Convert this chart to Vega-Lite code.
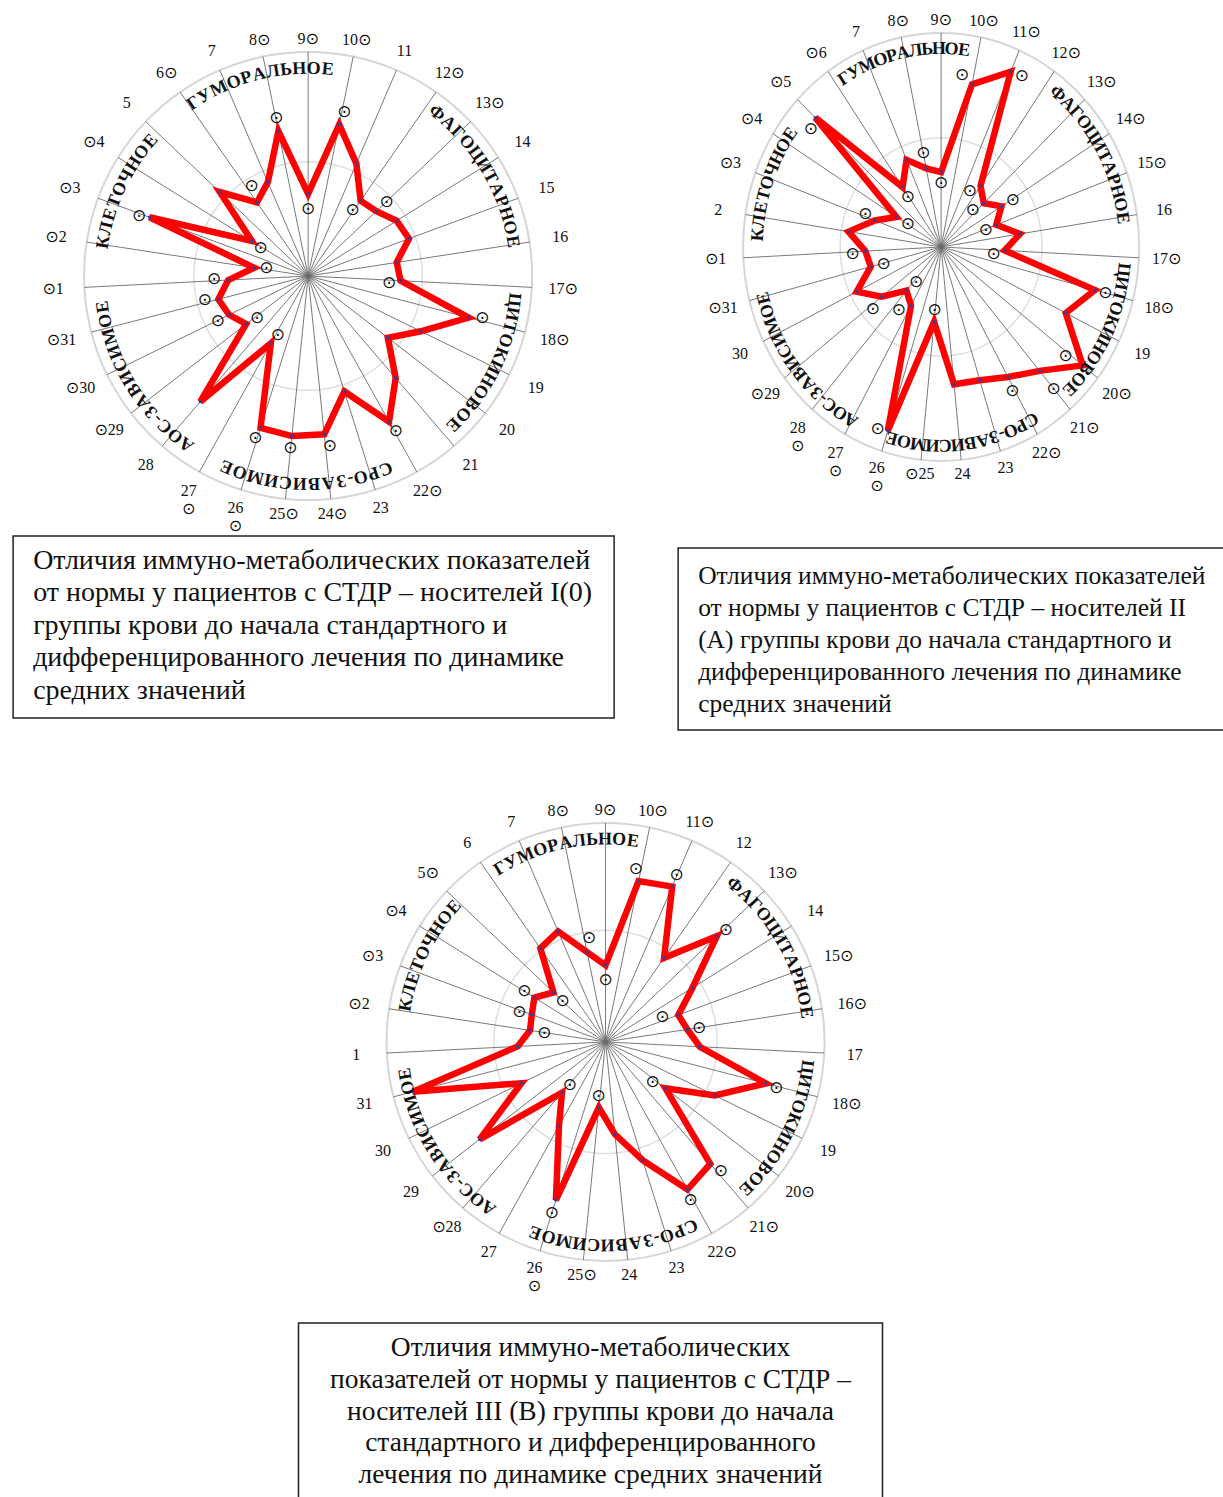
{
  "$schema": "https://vega.github.io/schema/vega-lite/v6.json",
  "background": "white",
  "padding": {"left": 12, "top": 0, "right": 0, "bottom": 0},
  "config": {"view": {"stroke": null}},
  "center": true,
  "spacing": 0,
  "datasets": {
    "vals": [
      {"chart":1,"spoke":1,"v":0.357},{"chart":1,"spoke":2,"v":0.244},{"chart":1,"spoke":3,"v":0.755},{"chart":1,"spoke":4,"v":0.296},{"chart":1,"spoke":5,"v":0.544},{"chart":1,"spoke":6,"v":0.40},{"chart":1,"spoke":7,"v":0.456},{"chart":1,"spoke":8,"v":0.66},{"chart":1,"spoke":9,"v":0.367},{"chart":1,"spoke":10,"v":0.69},{"chart":1,"spoke":11,"v":0.546},{"chart":1,"spoke":12,"v":0.41},{"chart":1,"spoke":13,"v":0.42},{"chart":1,"spoke":14,"v":0.466},{"chart":1,"spoke":15,"v":0.48},{"chart":1,"spoke":16,"v":0.40},{"chart":1,"spoke":17,"v":0.413},{"chart":1,"spoke":18,"v":0.74},{"chart":1,"spoke":19,"v":0.56},{"chart":1,"spoke":20,"v":0.45},{"chart":1,"spoke":21,"v":0.60},{"chart":1,"spoke":22,"v":0.744},{"chart":1,"spoke":23,"v":0.54},{"chart":1,"spoke":24,"v":0.71},{"chart":1,"spoke":25,"v":0.718},{"chart":1,"spoke":26,"v":0.71},{"chart":1,"spoke":27,"v":0.343},{"chart":1,"spoke":28,"v":0.739},{"chart":1,"spoke":29,"v":0.35},{"chart":1,"spoke":30,"v":0.393},{"chart":1,"spoke":31,"v":0.414},
      {"chart":2,"spoke":1,"v":0.383},{"chart":2,"spoke":2,"v":0.473},{"chart":2,"spoke":3,"v":0.357},{"chart":2,"spoke":4,"v":0.266},{"chart":2,"spoke":5,"v":0.877},{"chart":2,"spoke":6,"v":0.341},{"chart":2,"spoke":7,"v":0.443},{"chart":2,"spoke":8,"v":0.375},{"chart":2,"spoke":9,"v":0.35},{"chart":2,"spoke":10,"v":0.776},{"chart":2,"spoke":11,"v":0.891},{"chart":2,"spoke":12,"v":0.348},{"chart":2,"spoke":13,"v":0.297},{"chart":2,"spoke":14,"v":0.359},{"chart":2,"spoke":15,"v":0.297},{"chart":2,"spoke":16,"v":0.403},{"chart":2,"spoke":17,"v":0.321},{"chart":2,"spoke":18,"v":0.802},{"chart":2,"spoke":19,"v":0.701},{"chart":2,"spoke":20,"v":0.904},{"chart":2,"spoke":21,"v":0.763},{"chart":2,"spoke":22,"v":0.695},{"chart":2,"spoke":23,"v":0.653},{"chart":2,"spoke":24,"v":0.645},{"chart":2,"spoke":25,"v":0.352},{"chart":2,"spoke":26,"v":0.90},{"chart":2,"spoke":27,"v":0.313},{"chart":2,"spoke":28,"v":0.269},{"chart":2,"spoke":29,"v":0.38},{"chart":2,"spoke":30,"v":0.475},{"chart":2,"spoke":31,"v":0.367},
      {"chart":3,"spoke":1,"v":0.402},{"chart":3,"spoke":2,"v":0.349},{"chart":3,"spoke":3,"v":0.359},{"chart":3,"spoke":4,"v":0.383},{"chart":3,"spoke":5,"v":0.328},{"chart":3,"spoke":6,"v":0.521},{"chart":3,"spoke":7,"v":0.549},{"chart":3,"spoke":8,"v":0.419},{"chart":3,"spoke":9,"v":0.35},{"chart":3,"spoke":10,"v":0.75},{"chart":3,"spoke":11,"v":0.772},{"chart":3,"spoke":12,"v":0.468},{"chart":3,"spoke":13,"v":0.701},{"chart":3,"spoke":14,"v":0.468},{"chart":3,"spoke":15,"v":0.354},{"chart":3,"spoke":16,"v":0.378},{"chart":3,"spoke":17,"v":0.431},{"chart":3,"spoke":18,"v":0.757},{"chart":3,"spoke":19,"v":0.555},{"chart":3,"spoke":20,"v":0.346},{"chart":3,"spoke":21,"v":0.734},{"chart":3,"spoke":22,"v":0.771},{"chart":3,"spoke":23,"v":0.566},{"chart":3,"spoke":24,"v":0.424},{"chart":3,"spoke":25,"v":0.301},{"chart":3,"spoke":26,"v":0.757},{"chart":3,"spoke":27,"v":0.438},{"chart":3,"spoke":28,"v":0.305},{"chart":3,"spoke":29,"v":0.727},{"chart":3,"spoke":30,"v":0.428},{"chart":3,"spoke":31,"v":0.909}
    ],
    "marks": [
      {"chart":1,"pos":1.1,"r":0.42},{"chart":1,"pos":2.2,"r":0.19},{"chart":1,"pos":2.93,"r":0.80},{"chart":1,"pos":3.85,"r":0.245},{"chart":1,"pos":6.24,"r":0.476},{"chart":1,"pos":8.02,"r":0.72},{"chart":1,"pos":9.0,"r":0.30},{"chart":1,"pos":10.07,"r":0.75},{"chart":1,"pos":11.93,"r":0.354},{"chart":1,"pos":13.03,"r":0.48},{"chart":1,"pos":17.19,"r":0.363},{"chart":1,"pos":17.91,"r":0.80},{"chart":1,"pos":21.96,"r":0.795},{"chart":1,"pos":23.87,"r":0.765},{"chart":1,"pos":25.01,"r":0.77},{"chart":1,"pos":26.05,"r":0.762},{"chart":1,"pos":26.85,"r":0.295},{"chart":1,"pos":28.84,"r":0.295},{"chart":1,"pos":29.96,"r":0.45},{"chart":1,"pos":31.13,"r":0.473},
      {"chart":2,"pos":4.70,"r":0.86},{"chart":2,"pos":8.01,"r":0.448},{"chart":2,"pos":9.0,"r":0.299},{"chart":2,"pos":5.9,"r":0.286},{"chart":2,"pos":4.03,"r":0.199},{"chart":2,"pos":3.16,"r":0.413},{"chart":2,"pos":0.87,"r":0.448},{"chart":2,"pos":30.91,"r":0.302},{"chart":2,"pos":27.73,"r":0.207},{"chart":2,"pos":28.81,"r":0.449},{"chart":2,"pos":27.61,"r":0.362},{"chart":2,"pos":26.28,"r":0.907},{"chart":2,"pos":25.05,"r":0.295},{"chart":2,"pos":17.38,"r":0.267},{"chart":2,"pos":18.0,"r":0.857},{"chart":2,"pos":20.12,"r":0.81},{"chart":2,"pos":22.08,"r":0.763},{"chart":2,"pos":21.0,"r":0.872},{"chart":2,"pos":9.65,"r":0.81},{"chart":2,"pos":11.33,"r":0.897},{"chart":2,"pos":11.5,"r":0.3},{"chart":2,"pos":12.71,"r":0.234},{"chart":2,"pos":14.07,"r":0.423},{"chart":2,"pos":15.12,"r":0.239},
      {"chart":3,"pos":8.23,"r":0.48},{"chart":3,"pos":9.0,"r":0.282},{"chart":3,"pos":4.0,"r":0.437},{"chart":3,"pos":4.99,"r":0.27},{"chart":3,"pos":2.9,"r":0.417},{"chart":3,"pos":1.99,"r":0.283},{"chart":3,"pos":27.9,"r":0.256},{"chart":3,"pos":25.13,"r":0.25},{"chart":3,"pos":26.0,"r":0.818},{"chart":3,"pos":20.23,"r":0.282},{"chart":3,"pos":18.04,"r":0.808},{"chart":3,"pos":20.9,"r":0.79},{"chart":3,"pos":22.07,"r":0.821},{"chart":3,"pos":9.86,"r":0.80},{"chart":3,"pos":10.99,"r":0.827},{"chart":3,"pos":13.06,"r":0.75},{"chart":3,"pos":14.71,"r":0.284},{"chart":3,"pos":16.02,"r":0.432}
    ],
    "labels": [
      {"chart":1,"spoke":1,"lab":"⊙1"},{"chart":1,"spoke":2,"lab":"⊙2"},{"chart":1,"spoke":3,"lab":"⊙3"},{"chart":1,"spoke":4,"lab":"⊙4"},{"chart":1,"spoke":5,"lab":"5"},{"chart":1,"spoke":6,"lab":"6⊙"},{"chart":1,"spoke":7,"lab":"7"},{"chart":1,"spoke":8,"lab":"8⊙"},{"chart":1,"spoke":9,"lab":"9⊙"},{"chart":1,"spoke":10,"lab":"10⊙"},{"chart":1,"spoke":11,"lab":"11"},{"chart":1,"spoke":12,"lab":"12⊙"},{"chart":1,"spoke":13,"lab":"13⊙"},{"chart":1,"spoke":14,"lab":"14"},{"chart":1,"spoke":15,"lab":"15"},{"chart":1,"spoke":16,"lab":"16"},{"chart":1,"spoke":17,"lab":"17⊙"},{"chart":1,"spoke":18,"lab":"18⊙"},{"chart":1,"spoke":19,"lab":"19"},{"chart":1,"spoke":20,"lab":"20"},{"chart":1,"spoke":21,"lab":"21"},{"chart":1,"spoke":22,"lab":"22⊙"},{"chart":1,"spoke":23,"lab":"23"},{"chart":1,"spoke":24,"lab":"24⊙"},{"chart":1,"spoke":25,"lab":"25⊙"},{"chart":1,"spoke":26,"lab":"26\n⊙"},{"chart":1,"spoke":27,"lab":"27\n⊙"},{"chart":1,"spoke":28,"lab":"28"},{"chart":1,"spoke":29,"lab":"⊙29"},{"chart":1,"spoke":30,"lab":"⊙30"},{"chart":1,"spoke":31,"lab":"⊙31"},
      {"chart":2,"spoke":1,"lab":"⊙1"},{"chart":2,"spoke":2,"lab":"2"},{"chart":2,"spoke":3,"lab":"⊙3"},{"chart":2,"spoke":4,"lab":"⊙4"},{"chart":2,"spoke":5,"lab":"⊙5"},{"chart":2,"spoke":6,"lab":"⊙6"},{"chart":2,"spoke":7,"lab":"7"},{"chart":2,"spoke":8,"lab":"8⊙"},{"chart":2,"spoke":9,"lab":"9⊙"},{"chart":2,"spoke":10,"lab":"10⊙"},{"chart":2,"spoke":11,"lab":"11⊙"},{"chart":2,"spoke":12,"lab":"12⊙"},{"chart":2,"spoke":13,"lab":"13⊙"},{"chart":2,"spoke":14,"lab":"14⊙"},{"chart":2,"spoke":15,"lab":"15⊙"},{"chart":2,"spoke":16,"lab":"16"},{"chart":2,"spoke":17,"lab":"17⊙"},{"chart":2,"spoke":18,"lab":"18⊙"},{"chart":2,"spoke":19,"lab":"19"},{"chart":2,"spoke":20,"lab":"20⊙"},{"chart":2,"spoke":21,"lab":"21⊙"},{"chart":2,"spoke":22,"lab":"22⊙"},{"chart":2,"spoke":23,"lab":"23"},{"chart":2,"spoke":24,"lab":"24"},{"chart":2,"spoke":25,"lab":"⊙25"},{"chart":2,"spoke":26,"lab":"26\n⊙"},{"chart":2,"spoke":27,"lab":"27\n⊙"},{"chart":2,"spoke":28,"lab":"28\n⊙"},{"chart":2,"spoke":29,"lab":"⊙29"},{"chart":2,"spoke":30,"lab":"30"},{"chart":2,"spoke":31,"lab":"⊙31"},
      {"chart":3,"spoke":1,"lab":"1"},{"chart":3,"spoke":2,"lab":"⊙2"},{"chart":3,"spoke":3,"lab":"⊙3"},{"chart":3,"spoke":4,"lab":"⊙4"},{"chart":3,"spoke":5,"lab":"5⊙"},{"chart":3,"spoke":6,"lab":"6"},{"chart":3,"spoke":7,"lab":"7"},{"chart":3,"spoke":8,"lab":"8⊙"},{"chart":3,"spoke":9,"lab":"9⊙"},{"chart":3,"spoke":10,"lab":"10⊙"},{"chart":3,"spoke":11,"lab":"11⊙"},{"chart":3,"spoke":12,"lab":"12"},{"chart":3,"spoke":13,"lab":"13⊙"},{"chart":3,"spoke":14,"lab":"14"},{"chart":3,"spoke":15,"lab":"15⊙"},{"chart":3,"spoke":16,"lab":"16⊙"},{"chart":3,"spoke":17,"lab":"17"},{"chart":3,"spoke":18,"lab":"18⊙"},{"chart":3,"spoke":19,"lab":"19"},{"chart":3,"spoke":20,"lab":"20⊙"},{"chart":3,"spoke":21,"lab":"21⊙"},{"chart":3,"spoke":22,"lab":"22⊙"},{"chart":3,"spoke":23,"lab":"23"},{"chart":3,"spoke":24,"lab":"24"},{"chart":3,"spoke":25,"lab":"25⊙"},{"chart":3,"spoke":26,"lab":"26\n⊙"},{"chart":3,"spoke":27,"lab":"27"},{"chart":3,"spoke":28,"lab":"⊙28"},{"chart":3,"spoke":29,"lab":"29"},{"chart":3,"spoke":30,"lab":"30"},{"chart":3,"spoke":31,"lab":"31"}
    ],
    "groups": [
      {"chart":1,"name":"ГУМОРАЛЬНОЕ","at":7.8},{"chart":1,"name":"ФАГОЦИТАРНОЕ","at":14.1},{"chart":1,"name":"ЦИТОКИНОВОЕ","at":19.0},{"chart":1,"name":"СРО-ЗАВИСИМОЕ","at":24.55},{"chart":1,"name":"АОС-ЗАВИСИМОЕ","at":29.55},{"chart":1,"name":"КЛЕТОЧНОЕ","at":3.4},
      {"chart":2,"name":"ГУМОРАЛЬНОЕ","at":7.95},{"chart":2,"name":"ФАГОЦИТАРНОЕ","at":14.2},{"chart":2,"name":"ЦИТОКИНОВОЕ","at":19.0},{"chart":2,"name":"СРО-ЗАВИСИМОЕ","at":23.9},{"chart":2,"name":"АОС-ЗАВИСИМОЕ","at":29.0},{"chart":2,"name":"КЛЕТОЧНОЕ","at":2.9},
      {"chart":3,"name":"ГУМОРАЛЬНОЕ","at":8.0},{"chart":3,"name":"ФАГОЦИТАРНОЕ","at":14.2},{"chart":3,"name":"ЦИТОКИНОВОЕ","at":19.04},{"chart":3,"name":"СРО-ЗАВИСИМОЕ","at":24.3},{"chart":3,"name":"АОС-ЗАВИСИМОЕ","at":29.5},{"chart":3,"name":"КЛЕТОЧНОЕ","at":3.5}
    ],
    "cap": [
      {"box":1,"line":1,"t":"Отличия иммуно-метаболических показателей"},
      {"box":1,"line":2,"t":"от нормы у пациентов с СТДР – носителей I(0)"},
      {"box":1,"line":3,"t":"группы крови до начала стандартного и"},
      {"box":1,"line":4,"t":"дифференцированного лечения по динамике"},
      {"box":1,"line":5,"t":"средних значений"},
      {"box":2,"line":1,"t":"Отличия иммуно-метаболических показателей"},
      {"box":2,"line":2,"t":"от нормы у пациентов с СТДР – носителей II"},
      {"box":2,"line":3,"t":"(А) группы крови до начала стандартного и"},
      {"box":2,"line":4,"t":"дифференцированного лечения по динамике"},
      {"box":2,"line":5,"t":"средних значений"},
      {"box":3,"line":1,"t":"Отличия иммуно-метаболических"},
      {"box":3,"line":2,"t":"показателей от нормы у пациентов с СТДР –"},
      {"box":3,"line":3,"t":"носителей III (В) группы крови до начала"},
      {"box":3,"line":4,"t":"стандартного и дифференцированного"},
      {"box":3,"line":5,"t":"лечения по динамике средних значений"}
    ]
  },
  "vconcat": [
    {
      "spacing": 62,
      "hconcat": [
        {
          "spacing": 0,
          "vconcat": [
            {
              "width": 601, "height": 535,
              "encoding": {
                "x": {"field": "gx", "type": "quantitative", "scale": {"domain": [-1.317, 1.366], "nice": false, "zero": false}, "axis": null},
                "y": {"field": "gy", "type": "quantitative", "scale": {"domain": [-1.156, 1.232], "nice": false, "zero": false}, "axis": null}
              },
              "layer": [
                {"data": {"name": "vals"}, "transform": [{"filter": "datum.chart==1"}, {"calculate": "(datum.spoke-9)*2*PI/31", "as": "t"}, {"calculate": "0.51*sin(datum.t)", "as": "gx"}, {"calculate": "0.51*cos(datum.t)", "as": "gy"}],
                 "mark": {"type": "line", "interpolate": "cardinal-closed", "color": "#dedede", "strokeWidth": 1.5}, "encoding": {"order": {"field": "spoke", "type": "quantitative"}}},
                {"data": {"name": "vals"}, "transform": [{"filter": "datum.chart==1"}, {"calculate": "(datum.spoke-9)*2*PI/31", "as": "t"}, {"calculate": "sin(datum.t)", "as": "gx"}, {"calculate": "cos(datum.t)", "as": "gy"}],
                 "mark": {"type": "line", "interpolate": "cardinal-closed", "color": "#d6d6d6", "strokeWidth": 2}, "encoding": {"order": {"field": "spoke", "type": "quantitative"}}},
                {"data": {"name": "vals"}, "transform": [{"filter": "datum.chart==1"}, {"calculate": "(datum.spoke-9)*2*PI/31", "as": "t"}, {"calculate": "0", "as": "gx"}, {"calculate": "0", "as": "gy"}, {"calculate": "sin(datum.t)", "as": "ex"}, {"calculate": "cos(datum.t)", "as": "ey"}],
                 "mark": {"type": "rule", "color": "#6a6a6a", "strokeWidth": 0.9}, "encoding": {"x2": {"field": "ex"}, "y2": {"field": "ey"}}},
                {"data": {"name": "vals"}, "transform": [{"filter": "datum.chart==1"}, {"calculate": "(datum.spoke-9)*2*PI/31", "as": "t"}, {"calculate": "datum.v*sin(datum.t)", "as": "gx"}, {"calculate": "datum.v*cos(datum.t)", "as": "gy"}],
                 "mark": {"type": "line", "interpolate": "linear-closed", "color": "#ff0000", "strokeWidth": 6.5, "strokeJoin": "miter"}, "encoding": {"order": {"field": "spoke", "type": "quantitative"}}},
                {"data": {"name": "vals"}, "transform": [{"filter": "datum.chart==1"}, {"calculate": "(datum.spoke-9)*2*PI/31", "as": "t"}, {"calculate": "datum.v*sin(datum.t)", "as": "gx"}, {"calculate": "datum.v*cos(datum.t)", "as": "gy"}],
                 "mark": {"type": "point", "filled": true, "color": "#2f3fa8", "size": 12, "opacity": 1}},
                {"data": {"name": "marks"}, "transform": [{"filter": "datum.chart==1"}, {"calculate": "(datum.pos-9)*2*PI/31", "as": "t"}, {"calculate": "datum.r*sin(datum.t)", "as": "gx"}, {"calculate": "datum.r*cos(datum.t)", "as": "gy"}],
                 "mark": {"type": "text", "text": "⊙", "font": "DejaVu Sans", "fontSize": 17, "color": "#111111", "align": "center", "baseline": "middle"}},
                {"data": {"name": "labels"}, "transform": [{"filter": "datum.chart==1"}, {"calculate": "(datum.spoke-9)*2*PI/31", "as": "t"}, {"calculate": "1.06+0.08*abs(sin(datum.t))", "as": "rl"}, {"calculate": "datum.rl*sin(datum.t)", "as": "gx"}, {"calculate": "datum.rl*cos(datum.t)", "as": "gy"}],
                 "mark": {"type": "text", "font": "'Liberation Serif', 'DejaVu Sans'", "fontSize": 16, "color": "#111111", "align": "center", "baseline": "middle", "lineBreak": "\n"}, "encoding": {"text": {"field": "lab"}}},
                {"data": {"name": "groups"}, "transform": [{"filter": "datum.chart==1"}, {"calculate": "split(datum.name, '')", "as": "ch"}, {"flatten": ["ch"]}, {"calculate": "datum.ch=='-' ? 0.45 : (datum.ch=='М' ? 1.27 : (datum.ch=='Ф' ? 1.15 : (indexof('ГРЬЗ', datum.ch) >= 0 ? 0.85 : (datum.ch=='Т' ? 0.9 : 1))))", "as": "w"}, {"window": [{"op": "sum", "field": "w", "as": "cum"}], "frame": [null, 0], "groupby": ["chart", "name"]}, {"window": [{"op": "sum", "field": "w", "as": "tot"}], "frame": [null, null], "groupby": ["chart", "name"]}, {"calculate": "(datum.at-9+(datum.cum-datum.w/2-datum.tot/2)*0.34)*2*PI/31", "as": "t"}, {"calculate": "0.925*sin(datum.t)", "as": "gx"}, {"calculate": "0.925*cos(datum.t)", "as": "gy"}, {"calculate": "datum.t*180/PI", "as": "deg"}],
                 "mark": {"type": "text", "font": "Liberation Serif", "fontSize": 18, "fontWeight": "bold", "color": "#111111", "align": "center", "baseline": "middle"}, "encoding": {"text": {"field": "ch"}, "angle": {"field": "deg", "type": "quantitative", "scale": null}}}
              ]
            },
            {
              "width": 601, "height": 182,
              "view": {"stroke": "#222222", "strokeWidth": 1.5},
              "data": {"name": "cap"},
              "transform": [{"filter": "datum.box==1"}],
              "mark": {"type": "text", "align": "left", "baseline": "middle", "font": "Liberation Serif", "fontSize": 28, "color": "#111111", "dx": 20},
              "encoding": {
                "x": {"datum": 0, "type": "quantitative", "scale": {"domain": [0, 1]}, "axis": null},
                "y": {"field": "line", "type": "quantitative", "scale": {"domain": [0.231, 5.831], "reverse": true, "nice": false, "zero": false}, "axis": null},
                "text": {"field": "t"}
              }
            }
          ]
        },
        {
          "spacing": 0,
          "vconcat": [
            {
              "width": 546, "height": 547,
              "encoding": {
                "x": {"field": "gx", "type": "quantitative", "scale": {"domain": [-1.328, 1.429], "nice": false, "zero": false}, "axis": null},
                "y": {"field": "gy", "type": "quantitative", "scale": {"domain": [-1.402, 1.154], "nice": false, "zero": false}, "axis": null}
              },
              "layer": [
                {"data": {"name": "vals"}, "transform": [{"filter": "datum.chart==2"}, {"calculate": "(datum.spoke-9)*2*PI/31", "as": "t"}, {"calculate": "0.51*sin(datum.t)", "as": "gx"}, {"calculate": "0.51*cos(datum.t)", "as": "gy"}],
                 "mark": {"type": "line", "interpolate": "cardinal-closed", "color": "#dedede", "strokeWidth": 1.5}, "encoding": {"order": {"field": "spoke", "type": "quantitative"}}},
                {"data": {"name": "vals"}, "transform": [{"filter": "datum.chart==2"}, {"calculate": "(datum.spoke-9)*2*PI/31", "as": "t"}, {"calculate": "sin(datum.t)", "as": "gx"}, {"calculate": "cos(datum.t)", "as": "gy"}],
                 "mark": {"type": "line", "interpolate": "cardinal-closed", "color": "#d6d6d6", "strokeWidth": 2}, "encoding": {"order": {"field": "spoke", "type": "quantitative"}}},
                {"data": {"name": "vals"}, "transform": [{"filter": "datum.chart==2"}, {"calculate": "(datum.spoke-9)*2*PI/31", "as": "t"}, {"calculate": "0", "as": "gx"}, {"calculate": "0", "as": "gy"}, {"calculate": "sin(datum.t)", "as": "ex"}, {"calculate": "cos(datum.t)", "as": "ey"}],
                 "mark": {"type": "rule", "color": "#6a6a6a", "strokeWidth": 0.9}, "encoding": {"x2": {"field": "ex"}, "y2": {"field": "ey"}}},
                {"data": {"name": "vals"}, "transform": [{"filter": "datum.chart==2"}, {"calculate": "(datum.spoke-9)*2*PI/31", "as": "t"}, {"calculate": "datum.v*sin(datum.t)", "as": "gx"}, {"calculate": "datum.v*cos(datum.t)", "as": "gy"}],
                 "mark": {"type": "line", "interpolate": "linear-closed", "color": "#ff0000", "strokeWidth": 6.5, "strokeJoin": "miter"}, "encoding": {"order": {"field": "spoke", "type": "quantitative"}}},
                {"data": {"name": "vals"}, "transform": [{"filter": "datum.chart==2"}, {"calculate": "(datum.spoke-9)*2*PI/31", "as": "t"}, {"calculate": "datum.v*sin(datum.t)", "as": "gx"}, {"calculate": "datum.v*cos(datum.t)", "as": "gy"}],
                 "mark": {"type": "point", "filled": true, "color": "#2f3fa8", "size": 12, "opacity": 1}},
                {"data": {"name": "marks"}, "transform": [{"filter": "datum.chart==2"}, {"calculate": "(datum.pos-9)*2*PI/31", "as": "t"}, {"calculate": "datum.r*sin(datum.t)", "as": "gx"}, {"calculate": "datum.r*cos(datum.t)", "as": "gy"}],
                 "mark": {"type": "text", "text": "⊙", "font": "DejaVu Sans", "fontSize": 17, "color": "#111111", "align": "center", "baseline": "middle"}},
                {"data": {"name": "labels"}, "transform": [{"filter": "datum.chart==2"}, {"calculate": "(datum.spoke-9)*2*PI/31", "as": "t"}, {"calculate": "1.06+0.08*abs(sin(datum.t))", "as": "rl"}, {"calculate": "datum.rl*sin(datum.t)", "as": "gx"}, {"calculate": "datum.rl*cos(datum.t)", "as": "gy"}],
                 "mark": {"type": "text", "font": "'Liberation Serif', 'DejaVu Sans'", "fontSize": 16, "color": "#111111", "align": "center", "baseline": "middle", "lineBreak": "\n"}, "encoding": {"text": {"field": "lab"}}},
                {"data": {"name": "groups"}, "transform": [{"filter": "datum.chart==2"}, {"calculate": "split(datum.name, '')", "as": "ch"}, {"flatten": ["ch"]}, {"calculate": "datum.ch=='-' ? 0.45 : (datum.ch=='М' ? 1.27 : (datum.ch=='Ф' ? 1.15 : (indexof('ГРЬЗ', datum.ch) >= 0 ? 0.85 : (datum.ch=='Т' ? 0.9 : 1))))", "as": "w"}, {"window": [{"op": "sum", "field": "w", "as": "cum"}], "frame": [null, 0], "groupby": ["chart", "name"]}, {"window": [{"op": "sum", "field": "w", "as": "tot"}], "frame": [null, null], "groupby": ["chart", "name"]}, {"calculate": "(datum.at-9+(datum.cum-datum.w/2-datum.tot/2)*0.34)*2*PI/31", "as": "t"}, {"calculate": "0.925*sin(datum.t)", "as": "gx"}, {"calculate": "0.925*cos(datum.t)", "as": "gy"}, {"calculate": "datum.t*180/PI", "as": "deg"}],
                 "mark": {"type": "text", "font": "Liberation Serif", "fontSize": 18, "fontWeight": "bold", "color": "#111111", "align": "center", "baseline": "middle"}, "encoding": {"text": {"field": "ch"}, "angle": {"field": "deg", "type": "quantitative", "scale": null}}}
              ]
            },
            {
              "width": 546, "height": 182,
              "view": {"stroke": "#222222", "strokeWidth": 1.5},
              "data": {"name": "cap"},
              "transform": [{"filter": "datum.box==2"}],
              "mark": {"type": "text", "align": "left", "baseline": "middle", "font": "Liberation Serif", "fontSize": 25.5, "color": "#111111", "dx": 20},
              "encoding": {
                "x": {"datum": 0, "type": "quantitative", "scale": {"domain": [0, 1]}, "axis": null},
                "y": {"field": "line", "type": "quantitative", "scale": {"domain": [0.125, 5.8125], "reverse": true, "nice": false, "zero": false}, "axis": null},
                "text": {"field": "t"}
              }
            }
          ]
        }
      ]
    },
    {
      "spacing": 0,
      "vconcat": [
        {
          "width": 641, "height": 591,
          "encoding": {
            "x": {"field": "gx", "type": "quantitative", "scale": {"domain": [-1.402, 1.525], "nice": false, "zero": false}, "axis": null},
            "y": {"field": "gy", "type": "quantitative", "scale": {"domain": [-1.279, 1.420], "nice": false, "zero": false}, "axis": null}
          },
          "layer": [
            {"data": {"name": "vals"}, "transform": [{"filter": "datum.chart==3"}, {"calculate": "(datum.spoke-9)*2*PI/31", "as": "t"}, {"calculate": "0.51*sin(datum.t)", "as": "gx"}, {"calculate": "0.51*cos(datum.t)", "as": "gy"}],
             "mark": {"type": "line", "interpolate": "cardinal-closed", "color": "#dedede", "strokeWidth": 1.5}, "encoding": {"order": {"field": "spoke", "type": "quantitative"}}},
            {"data": {"name": "vals"}, "transform": [{"filter": "datum.chart==3"}, {"calculate": "(datum.spoke-9)*2*PI/31", "as": "t"}, {"calculate": "sin(datum.t)", "as": "gx"}, {"calculate": "cos(datum.t)", "as": "gy"}],
             "mark": {"type": "line", "interpolate": "cardinal-closed", "color": "#d6d6d6", "strokeWidth": 2}, "encoding": {"order": {"field": "spoke", "type": "quantitative"}}},
            {"data": {"name": "vals"}, "transform": [{"filter": "datum.chart==3"}, {"calculate": "(datum.spoke-9)*2*PI/31", "as": "t"}, {"calculate": "0", "as": "gx"}, {"calculate": "0", "as": "gy"}, {"calculate": "sin(datum.t)", "as": "ex"}, {"calculate": "cos(datum.t)", "as": "ey"}],
             "mark": {"type": "rule", "color": "#6a6a6a", "strokeWidth": 0.9}, "encoding": {"x2": {"field": "ex"}, "y2": {"field": "ey"}}},
            {"data": {"name": "vals"}, "transform": [{"filter": "datum.chart==3"}, {"calculate": "(datum.spoke-9)*2*PI/31", "as": "t"}, {"calculate": "datum.v*sin(datum.t)", "as": "gx"}, {"calculate": "datum.v*cos(datum.t)", "as": "gy"}],
             "mark": {"type": "line", "interpolate": "linear-closed", "color": "#ff0000", "strokeWidth": 6.5, "strokeJoin": "miter"}, "encoding": {"order": {"field": "spoke", "type": "quantitative"}}},
            {"data": {"name": "vals"}, "transform": [{"filter": "datum.chart==3"}, {"calculate": "(datum.spoke-9)*2*PI/31", "as": "t"}, {"calculate": "datum.v*sin(datum.t)", "as": "gx"}, {"calculate": "datum.v*cos(datum.t)", "as": "gy"}],
             "mark": {"type": "point", "filled": true, "color": "#2f3fa8", "size": 12, "opacity": 1}},
            {"data": {"name": "marks"}, "transform": [{"filter": "datum.chart==3"}, {"calculate": "(datum.pos-9)*2*PI/31", "as": "t"}, {"calculate": "datum.r*sin(datum.t)", "as": "gx"}, {"calculate": "datum.r*cos(datum.t)", "as": "gy"}],
             "mark": {"type": "text", "text": "⊙", "font": "DejaVu Sans", "fontSize": 17, "color": "#111111", "align": "center", "baseline": "middle"}},
            {"data": {"name": "labels"}, "transform": [{"filter": "datum.chart==3"}, {"calculate": "(datum.spoke-9)*2*PI/31", "as": "t"}, {"calculate": "1.06+0.08*abs(sin(datum.t))", "as": "rl"}, {"calculate": "datum.rl*sin(datum.t)", "as": "gx"}, {"calculate": "datum.rl*cos(datum.t)", "as": "gy"}],
             "mark": {"type": "text", "font": "'Liberation Serif', 'DejaVu Sans'", "fontSize": 16, "color": "#111111", "align": "center", "baseline": "middle", "lineBreak": "\n"}, "encoding": {"text": {"field": "lab"}}},
            {"data": {"name": "groups"}, "transform": [{"filter": "datum.chart==3"}, {"calculate": "split(datum.name, '')", "as": "ch"}, {"flatten": ["ch"]}, {"calculate": "datum.ch=='-' ? 0.45 : (datum.ch=='М' ? 1.27 : (datum.ch=='Ф' ? 1.15 : (indexof('ГРЬЗ', datum.ch) >= 0 ? 0.85 : (datum.ch=='Т' ? 0.9 : 1))))", "as": "w"}, {"window": [{"op": "sum", "field": "w", "as": "cum"}], "frame": [null, 0], "groupby": ["chart", "name"]}, {"window": [{"op": "sum", "field": "w", "as": "tot"}], "frame": [null, null], "groupby": ["chart", "name"]}, {"calculate": "(datum.at-9+(datum.cum-datum.w/2-datum.tot/2)*0.34)*2*PI/31", "as": "t"}, {"calculate": "0.925*sin(datum.t)", "as": "gx"}, {"calculate": "0.925*cos(datum.t)", "as": "gy"}, {"calculate": "datum.t*180/PI", "as": "deg"}],
             "mark": {"type": "text", "font": "Liberation Serif", "fontSize": 18, "fontWeight": "bold", "color": "#111111", "align": "center", "baseline": "middle"}, "encoding": {"text": {"field": "ch"}, "angle": {"field": "deg", "type": "quantitative", "scale": null}}}
          ]
        },
        {
          "width": 584, "height": 177,
          "view": {"stroke": "#222222", "strokeWidth": 1.5},
          "data": {"name": "cap"},
          "transform": [{"filter": "datum.box==3"}],
          "mark": {"type": "text", "align": "center", "baseline": "middle", "font": "Liberation Serif", "fontSize": 27.5, "color": "#111111"},
          "encoding": {
            "x": {"datum": 0.5, "type": "quantitative", "scale": {"domain": [0, 1]}, "axis": null},
            "y": {"field": "line", "type": "quantitative", "scale": {"domain": [0.214, 5.78], "reverse": true, "nice": false, "zero": false}, "axis": null},
            "text": {"field": "t"}
          }
        }
      ]
    }
  ]
}
